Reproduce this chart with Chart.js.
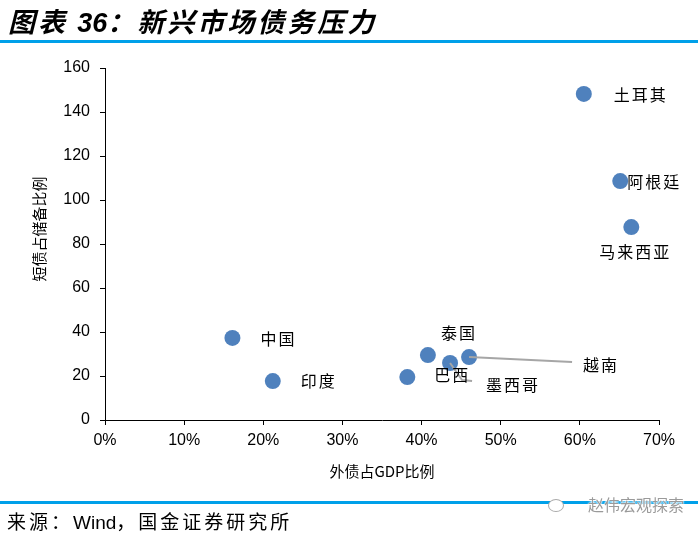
<!DOCTYPE html>
<html>
<head>
<meta charset="utf-8">
<script src="https://cdn.jsdelivr.net/npm/chart.js@4/dist/chart.umd.min.js"></script>
<style>
  body { margin: 0; background: #fff; }
  #wrap { position: relative; width: 698px; height: 536px; overflow: hidden; }
  #title {
    position: absolute; left: 8px; top: 1px;
    font: italic bold 27px "Noto Sans CJK SC"; letter-spacing: 3px; color: #000;
  }
  #title .num { font-family: "Liberation Sans"; letter-spacing: 0; }
  .rule { position: absolute; left: 0; width: 698px; height: 3px; background: #00A0E9; }
  #source { position: absolute; left: 7px; top: 507px; font: 19px "Noto Sans CJK SC"; letter-spacing: 3px; color: #000; }
  #source .en { font-family: "Liberation Sans"; letter-spacing: 0; }
  #mark {
    position: absolute; left: 548px; top: 492px; font: 16px "Noto Sans CJK SC"; color: #9a9a9a;
    text-shadow: 0 0 2px #fff, 0 0 2px #fff, 0 0 2px #fff;
  }
  #mark .ico { display: inline-block; width: 14px; height: 11px; border: 1.5px solid #aaa; border-radius: 50%;
    margin-right: 24px; vertical-align: -1px; background: #fff; }
  canvas { position: absolute; left: 0; top: 0; }
</style>
</head>
<body>
<div id="wrap">
  <canvas id="c" width="698" height="536"></canvas>
  <div class="rule" style="top:40px"></div>
  <div id="title">图表 <span class="num">36</span>：新兴市场债务压力</div>
  <div class="rule" style="top:501px"></div>
  <div id="mark"><span class="ico"></span>赵伟宏观探索</div>
  <div id="source">来源：<span class="en">Wind</span>，国金证券研究所</div>
</div>
<script>
// --- data ---
const countries = ['中国', '印度', '巴西', '泰国', '墨西哥', '越南', '土耳其', '阿根廷', '马来西亚'];
const externalDebtToGdp = [16.1, 21.2, 38.2, 40.8, 43.6, 46.0, 60.5, 65.1, 66.5];   // %
const shortDebtToReserves = [37.3, 17.7, 19.5, 29.5, 25.9, 28.6, 148.2, 108.6, 87.7];
const xTicks = [0, 10, 20, 30, 40, 50, 60, 70];
const yTicks = [0, 20, 40, 60, 80, 100, 120, 140, 160];

// label placement relative to each point (px)
const labelOffsets = [[45, 1], [45, 0], [44, -2], [30, -22], [62, 22], [131, 8], [56, 1], [33, 1], [3, 25]];
const leaderLines = {
  '墨西哥': [[0, 0], [12, 17], [22, 18]],
  '越南': [[0, 0], [103, 5]]
};

const pointLabels = {
  id: 'pointLabels',
  afterDatasetsDraw(chart) {
    const ctx = chart.ctx;
    const meta = chart.getDatasetMeta(0);
    ctx.save();
    ctx.strokeStyle = '#A6A6A6';
    ctx.lineWidth = 2;
    meta.data.forEach((pt, i) => {
      const path = leaderLines[countries[i]];
      if (!path) return;
      ctx.beginPath();
      path.forEach(([dx, dy], k) => {
        if (k === 0) ctx.moveTo(pt.x + dx, pt.y + dy);
        else ctx.lineTo(pt.x + dx, pt.y + dy);
      });
      ctx.stroke();
    });
    ctx.font = '16px "Noto Sans CJK SC"';
    ctx.letterSpacing = '2px';
    ctx.fillStyle = '#000';
    ctx.textAlign = 'center';
    ctx.textBaseline = 'middle';
    meta.data.forEach((pt, i) => {
      const [dx, dy] = labelOffsets[i];
      ctx.fillText(countries[i], pt.x + dx + 1, pt.y + dy);
    });
    ctx.restore();
  }
};

const tickFont = { family: 'Liberation Sans', size: 16 };
const titleFont = { family: 'Noto Sans CJK SC', size: 15 };

new Chart(document.getElementById('c'), {
  type: 'scatter',
  data: {
    datasets: [{
      data: countries.map((c, i) => ({ x: externalDebtToGdp[i], y: shortDebtToReserves[i] })),
      backgroundColor: '#4F81BD',
      borderWidth: 0,
      pointRadius: 8,
      pointHoverRadius: 8
    }]
  },
  options: {
    responsive: false,
    animation: false,
    layout: { padding: { left: 0, top: 68, right: 39, bottom: 0 } },
    plugins: { legend: { display: false }, tooltip: { enabled: false } },
    scales: {
      x: {
        type: 'linear',
        min: xTicks[0],
        max: xTicks[xTicks.length - 1],
        afterFit: s => { s.height = 116; },
        afterBuildTicks: s => { s.ticks = xTicks.map(v => ({ value: v })); },
        grid: { drawOnChartArea: false, color: '#000', tickLength: 5 },
        border: { color: '#000', width: 1 },
        ticks: { color: '#000', font: tickFont, padding: 6, maxRotation: 0, callback: v => v + '%' },
        title: { display: true, text: '外债占GDP比例', color: '#000', font: titleFont, padding: { bottom: 56 } }
      },
      y: {
        min: yTicks[0],
        max: yTicks[yTicks.length - 1],
        afterFit: s => { s.width = 105; },
        afterBuildTicks: s => { s.ticks = yTicks.map(v => ({ value: v })); },
        grid: { drawOnChartArea: false, color: '#000', tickLength: 5 },
        border: { color: '#000', width: 1 },
        ticks: { color: '#000', font: tickFont, padding: 10 },
        title: { display: true, text: '　　短债占储备比例', color: '#000', font: titleFont, padding: { top: 30 } }
      }
    }
  },
  plugins: [pointLabels]
});
</script>
</body>
</html>
